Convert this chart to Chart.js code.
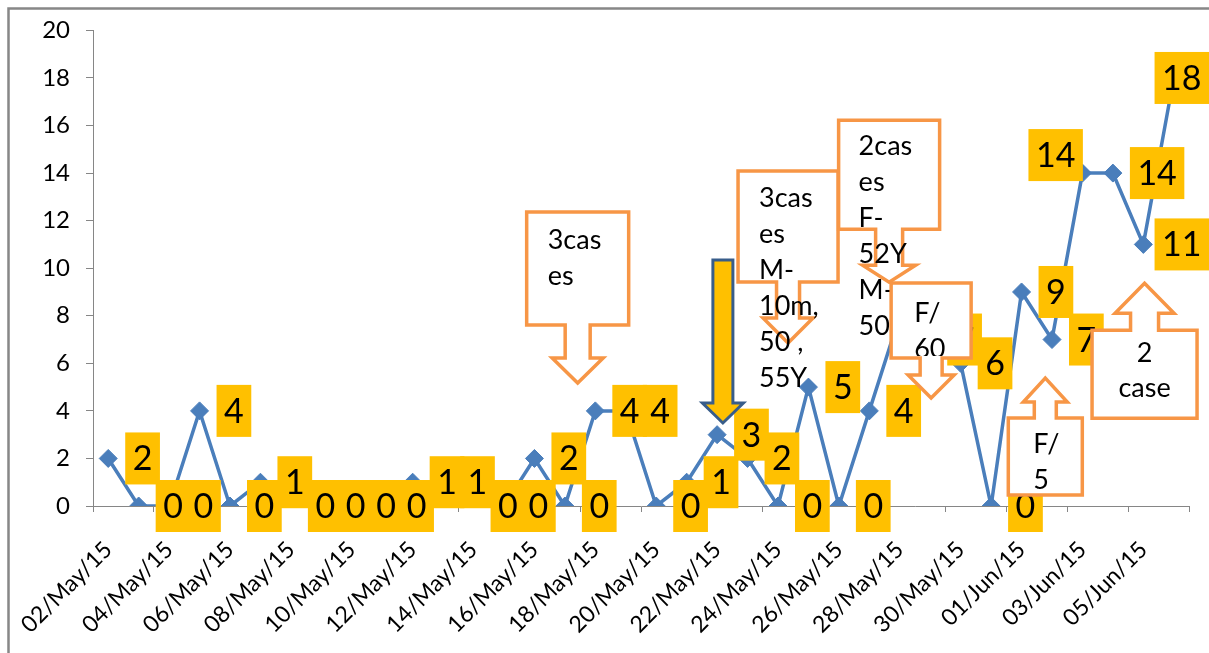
<!DOCTYPE html>
<html>
<head>
<meta charset="utf-8">
<title>Cases by day</title>
<script src="https://cdn.jsdelivr.net/npm/chart.js@4.4.0/dist/chart.umd.min.js"></script>
<style>
    html, body { margin: 0; padding: 0; background: #ffffff; }
    #myLineChart { display: block; }
</style>
</head>
<body>
<canvas id="myLineChart" width="1209" height="653"></canvas>
<script>
// categories (one per day)
var dates = ['02/May/15', '03/May/15', '04/May/15', '05/May/15', '06/May/15', '07/May/15',
    '08/May/15', '09/May/15', '10/May/15', '11/May/15', '12/May/15', '13/May/15',
    '14/May/15', '15/May/15', '16/May/15', '17/May/15', '18/May/15', '19/May/15',
    '20/May/15', '21/May/15', '22/May/15', '23/May/15', '24/May/15', '25/May/15',
    '26/May/15', '27/May/15', '28/May/15', '29/May/15', '30/May/15', '31/May/15',
    '01/Jun/15', '02/Jun/15', '03/Jun/15', '04/Jun/15', '05/Jun/15', '06/Jun/15'];
// so ca moi ngay
var cases = [2, 0, 0, 4, 0, 1, 0, 0, 0, 0, 1, 1, 0, 0, 2, 0, 4, 4, 0, 1, 3, 2, 0, 5, 0, 4, 8, 7, 6, 0, 9, 7, 14, 14, 11, 18];
var yMin = 0;
var yMax = 20;
var yStep = 2;

// callout texts
var note3Cases = ['3cas', 'es'];
var note3CasesAges = ['3cas', 'es', 'M-', '10m,', '50 ,', '55Y'];
var note2CasesAges = ['2cas', 'es', 'F-', '52Y', 'M-', '50Y'];
var noteF60 = ['F/', '60'];
var noteF5 = ['F/', '5'];
var note2Case = ['2', 'case'];

var FONT = 'Lato, "Open Sans", sans-serif';
var LINE_BLUE = '#4A7EBB';
var LABEL_BG = '#FFC000';
var CALLOUT_ORANGE = '#F79646';
var AXIS_GREY = '#868686';

// label moved by hand in the original (index -> shift)
var labelShift = { 32: { dx: -71, dy: -18 } };

// callouts: tip anchored on the scales (category index, value), box sizes in px
var callouts = [
    { at: [15.42, 5.17], dir: 'down', w: 102, h: 113, gap: 58, shaft: 25, head: 51, headLen: 25, text: note3Cases, tx: 21, ty: 37 },
    { arrow: true, at: [20.19, 3.49], len: 163, shaft: 20, head: 41, headLen: 20 },
    { at: [22.33, 6.85], dir: 'down', w: 100, h: 111, gap: 61, shaft: 23, head: 50, headLen: 25, text: note3CasesAges, tx: 21, ty: 36 },
    { at: [25.65, 9.41], dir: 'down', w: 101, h: 109, gap: 53, shaft: 27, head: 53, headLen: 17, text: note2CasesAges, tx: 20, ty: 35 },
    { at: [27.03, 4.54], dir: 'down', w: 80, h: 75, gap: 40, shaft: 22, head: 46, headLen: 23, text: noteF60, tx: 23, ty: 39, clip: true },
    { at: [30.78, 5.38], dir: 'up', w: 74, h: 77, gap: 40, shaft: 22, head: 44, headLen: 24, text: noteF5, tx: 25, ty: 35, clip: true },
    { at: [34.04, 9.37], dir: 'up', w: 105, h: 88, gap: 47, shaft: 28, head: 59, headLen: 30, text: note2Case, ty: 32, center: true, lh: 35 }
];

function calloutPath(ctx, c, x, y) {
    var s = c.dir === 'down' ? 1 : -1;
    var near = y - s * c.gap;
    var far = near - s * c.h;
    var headBase = y - s * c.headLen;
    ctx.beginPath();
    ctx.moveTo(x - c.w / 2, far);
    ctx.lineTo(x + c.w / 2, far);
    ctx.lineTo(x + c.w / 2, near);
    ctx.lineTo(x + c.shaft / 2, near);
    ctx.lineTo(x + c.shaft / 2, headBase);
    ctx.lineTo(x + c.head / 2, headBase);
    ctx.lineTo(x, y);
    ctx.lineTo(x - c.head / 2, headBase);
    ctx.lineTo(x - c.shaft / 2, headBase);
    ctx.lineTo(x - c.shaft / 2, near);
    ctx.lineTo(x - c.w / 2, near);
    ctx.closePath();
    return { left: x - c.w / 2, top: Math.min(near, far) };
}

function drawCallout(ctx, c, xs, ys) {
    var x = xs.getPixelForValue(c.at[0]);
    var y = ys.getPixelForValue(c.at[1]);
    ctx.save();
    ctx.lineJoin = 'miter';
    if (c.arrow) {
        // block arrow, yellow with dark blue edge
        var top = y - c.len, hb = y - c.headLen;
        ctx.beginPath();
        ctx.moveTo(x - c.shaft / 2, top);
        ctx.lineTo(x + c.shaft / 2, top);
        ctx.lineTo(x + c.shaft / 2, hb);
        ctx.lineTo(x + c.head / 2, hb);
        ctx.lineTo(x, y);
        ctx.lineTo(x - c.head / 2, hb);
        ctx.lineTo(x - c.shaft / 2, hb);
        ctx.closePath();
        ctx.fillStyle = LABEL_BG;
        ctx.fill();
        ctx.strokeStyle = '#385D8A';
        ctx.lineWidth = 3;
        ctx.stroke();
        ctx.restore();
        return;
    }
    var box = calloutPath(ctx, c, x, y);
    ctx.fillStyle = '#ffffff';
    ctx.fill();
    ctx.strokeStyle = CALLOUT_ORANGE;
    ctx.lineWidth = 3.5;
    ctx.stroke();
    if (c.clip) {
        ctx.beginPath();
        ctx.rect(box.left + 2, box.top + 2, c.w - 4, c.h - 4);
        ctx.clip();
    }
    ctx.fillStyle = '#000000';
    ctx.font = '27px ' + FONT;
    ctx.textBaseline = 'alphabetic';
    ctx.textAlign = c.center ? 'center' : 'left';
    var lh = c.lh || 36;
    c.text.forEach(function (line, i) {
        var tx = c.center ? x : box.left + c.tx;
        ctx.fillText(line, tx, box.top + c.ty + i * lh);
    });
    ctx.restore();
}

var overlayPlugin = {
    id: 'overlay',
    afterDatasetsDraw: function (chart) {
        var ctx = chart.ctx;
        var meta = chart.getDatasetMeta(0);
        // nhan du lieu: o vang ben phai diem
        ctx.save();
        ctx.font = '34px ' + FONT;
        ctx.textBaseline = 'alphabetic';
        ctx.textAlign = 'center';
        meta.data.forEach(function (pt, i) {
            var txt = String(cases[i]);
            var w = ctx.measureText(txt).width + 15;
            var h = 52;
            var left = pt.x + 17;
            var cy = pt.y;
            if (labelShift[i]) {
                left += labelShift[i].dx;
                cy += labelShift[i].dy;
            }
            if (left + w > chart.width) {
                left = chart.width - w;
            }
            ctx.fillStyle = LABEL_BG;
            ctx.fillRect(left, cy - h / 2, w, h);
            ctx.fillStyle = '#000000';
            ctx.fillText(txt, left + w / 2, cy + 12);
        });
        ctx.restore();

        var xs = chart.scales.x, ys = chart.scales.y;
        callouts.forEach(function (c) {
            drawCallout(ctx, c, xs, ys);
        });
    },
    afterDraw: function (chart) {
        // khung ngoai cua bieu do
        var ctx = chart.ctx;
        ctx.save();
        ctx.strokeStyle = '#878787';
        ctx.lineWidth = 2.5;
        ctx.beginPath();
        ctx.moveTo(8.5, chart.height);
        ctx.lineTo(8.5, 8.5);
        ctx.lineTo(chart.width, 8.5);
        ctx.stroke();
        ctx.restore();
    }
};

var ctx = document.getElementById('myLineChart').getContext('2d');
var _myChart = new Chart(ctx, {
    type: 'line',
    data: {
        labels: dates,
        datasets: [{
            label: 'Cases',
            data: cases,
            borderColor: LINE_BLUE,
            backgroundColor: LINE_BLUE,
            borderWidth: 3.5,
            tension: 0,
            fill: false,
            pointStyle: 'rectRot',
            pointRadius: 9,
            pointBorderWidth: 1,
            pointBackgroundColor: LINE_BLUE,
            pointBorderColor: LINE_BLUE
        }]
    },
    options: {
        responsive: false,
        devicePixelRatio: 1,
        animation: false,
        layout: { padding: { top: 30, right: 20, left: 0, bottom: 0 } },
        plugins: {
            legend: { display: false },
            tooltip: { enabled: false }
        },
        scales: {
            x: {
                type: 'category',
                offset: true,
                grid: {
                    offset: true,
                    drawOnChartArea: false,
                    drawTicks: true,
                    tickLength: 6,
                    color: function (c) {
                        return (c.index === undefined || c.index % 2 === 0) ? AXIS_GREY : 'rgba(0,0,0,0)';
                    }
                },
                border: { color: AXIS_GREY, width: 1 },
                ticks: {
                    autoSkip: false,
                    minRotation: 45,
                    maxRotation: 45,
                    padding: 24,
                    labelOffset: 0,
                    color: '#000000',
                    font: { family: FONT, size: 23 },
                    callback: function (v, i) {
                        return i % 2 === 0 ? dates[i] : '';
                    }
                },
                afterFit: function (s) {
                    s.height = 147;
                    s.paddingLeft = 0;
                    s.paddingRight = 0;
                }
            },
            y: {
                min: yMin,
                max: yMax,
                grid: { drawOnChartArea: false, tickLength: 7, color: AXIS_GREY },
                border: { color: AXIS_GREY, width: 1 },
                ticks: {
                    stepSize: yStep,
                    padding: 16,
                    color: '#000000',
                    font: { family: FONT, size: 24 }
                },
                afterFit: function (s) { s.width = 93; }
            }
        }
    },
    plugins: [overlayPlugin]
});
</script>
</body>
</html>
